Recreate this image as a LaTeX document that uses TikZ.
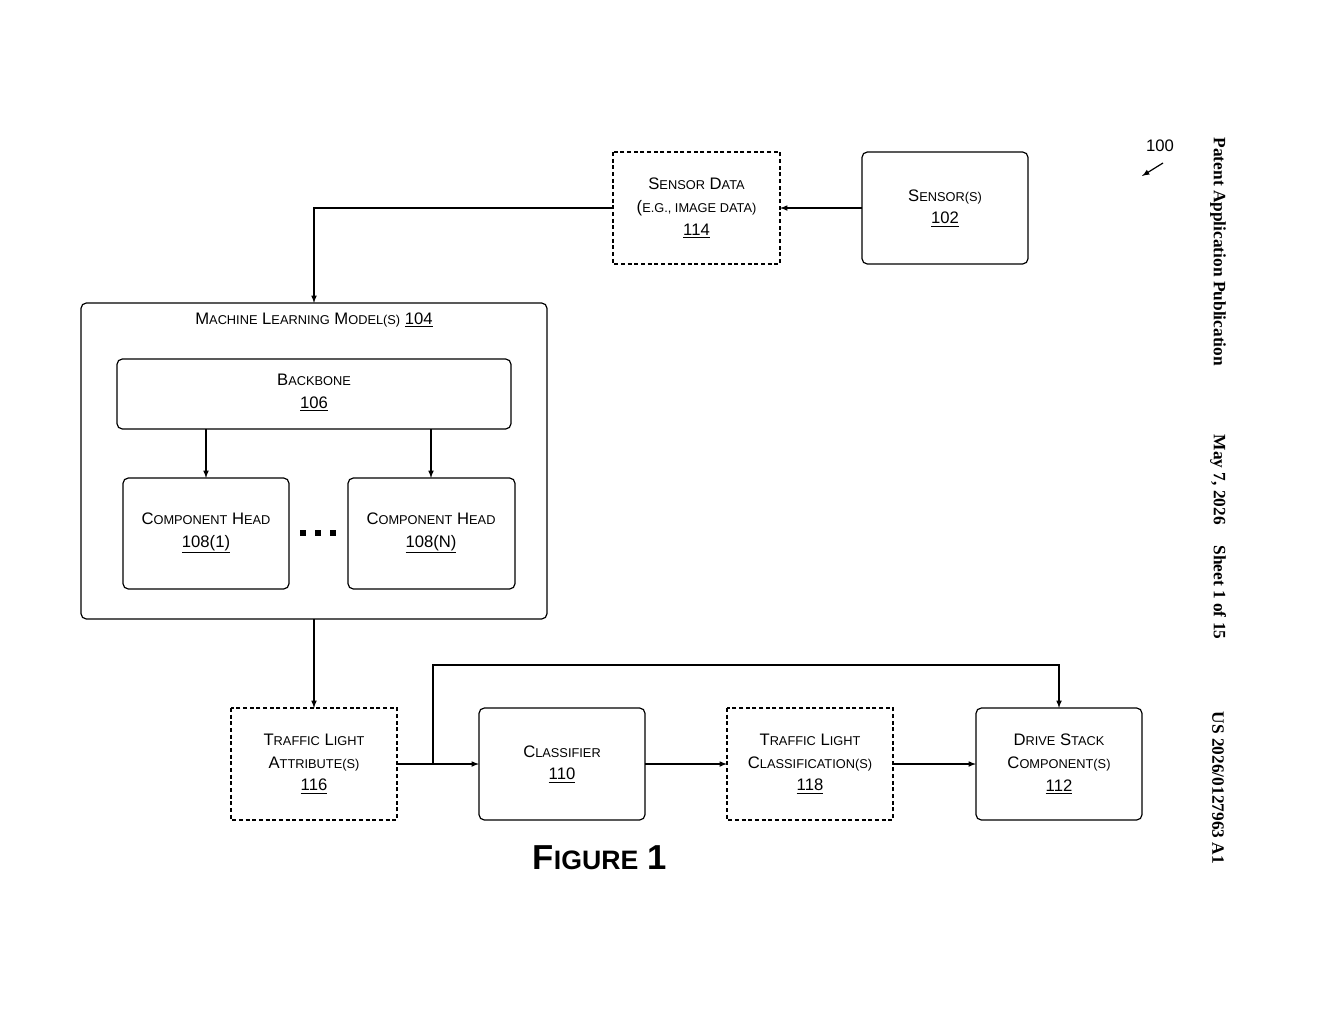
\documentclass[tikz,border=0pt]{standalone}
\usepackage{fontspec}
\setmainfont{Liberation Sans}
\newfontfamily\serifb{Liberation Serif}
\newcommand\fsc[2]{#1{\fontsize{9.6}{17}\selectfont #2}}
\begin{document}
\begin{tikzpicture}[x=0.75pt,y=-0.75pt,
  box/.style={draw,line width=0.9pt,rounded corners=4pt},
  dbox/.style={draw,line width=0.9pt,dashed,dash pattern=on 3pt off 2pt},
  lab/.style={font=\fontsize{12.5}{17}\selectfont,align=center},
  arr/.style={->,>=latex,line width=0.9pt}]
\useasboundingbox (0,0) rectangle (1320,1024);
% boxes
\draw[dbox] (613,152) rectangle (780,264); \coordinate (sdw) at (613,208); \coordinate (sde) at (780,208);
\node[lab] (sd) at (696.5,208) {\fsc{S}{ENSOR} \fsc{D}{ATA}\\\fsc{(}{E.G., IMAGE DATA)}\\\underline{114}};
\draw[box] (862,152) rectangle (1028,264); \coordinate (sw) at (862,208);
\node[lab] (s) at (945,208) {\fsc{S}{ENSOR(S)}\\\underline{102}};
\draw[box] (81,303) rectangle (547,619); \coordinate (mlt) at (314,303); \coordinate (mlb) at (314,619);
\node[lab] (ml) at (314,320) {\fsc{M}{ACHINE} \fsc{L}{EARNING} \fsc{M}{ODEL(S)} \underline{104}};
\draw[box] (117,359) rectangle (511,429);
\node[lab] (bb) at (314,393) {\fsc{B}{ACKBONE}\\\underline{106}};
\draw[box] (123,478) rectangle (289,589);
\node[lab] (h1) at (206,533) {\fsc{C}{OMPONENT} \fsc{H}{EAD}\\\underline{108(1)}};
\draw[box] (348,478) rectangle (515,589);
\node[lab] (hn) at (431,533) {\fsc{C}{OMPONENT} \fsc{H}{EAD}\\\underline{108(N)}};
\foreach \x in {303,318,333} \fill (\x-3,530) rectangle (\x+3,536);
\draw[dbox] (231,708) rectangle (397,820); \coordinate (tlae) at (397,764); \coordinate (tlat) at (314,708);
\node[lab] (tla) at (314,764) {\fsc{T}{RAFFIC} \fsc{L}{IGHT}\\\fsc{A}{TTRIBUTE(S)}\\\underline{116}};
\draw[box] (479,708) rectangle (645,820); \coordinate (cw) at (479,764); \coordinate (ce) at (645,764);
\node[lab] (c) at (562,764) {\fsc{C}{LASSIFIER}\\\underline{110}};
\draw[dbox] (727,708) rectangle (893,820); \coordinate (tcw) at (727,764); \coordinate (tce) at (893,764);
\node[lab] (tc) at (810,764) {\fsc{T}{RAFFIC} \fsc{L}{IGHT}\\\fsc{C}{LASSIFICATION(S)}\\\underline{118}};
\draw[box] (976,708) rectangle (1142,820); \coordinate (dw) at (976,764); \coordinate (dt) at (1059,708);
\node[lab] (d) at (1059,764) {\fsc{D}{RIVE} \fsc{S}{TACK}\\\fsc{C}{OMPONENT(S)}\\\underline{112}};
% connectors
\draw[arr] (sw) -- (sde);
\draw[arr] (sdw) -- (314,208) -- (mlt);
\draw[arr] (206,429) -- (206,478);
\draw[arr] (431,429) -- (431,478);
\draw[arr] (mlb) -- (tlat);
\draw[arr] (tlae) -- (cw);
\draw[arr] (433,764) -- (433,665) -- (1059,665) -- (dt);
\draw[arr] (ce) -- (tcw);
\draw[arr] (tce) -- (dw);
% figure label
\node[font=\bfseries\fontsize{26}{30}\selectfont] (fig) at (600,858) {F{\fontsize{20}{24}\selectfont IGURE} 1};
\node[font=\fontsize{12.5}{15}\selectfont] (n100) at (1160,146) {100};
\draw[arr] (1163,163) -- (1142,176);
% header
\node[rotate=-90,font=\serifb\bfseries\fontsize{13}{15}\selectfont,anchor=west] (h1t) at (1218,133) {Patent Application Publication};
\node[rotate=-90,font=\serifb\bfseries\fontsize{13}{15}\selectfont,anchor=west] (h2t) at (1218,430) {May 7, 2026\hspace{1.2em}Sheet 1 of 15};
\node[rotate=-90,font=\serifb\bfseries\fontsize{13}{15}\selectfont,anchor=west] (h3t) at (1218,707) {US 2026/0127963 A1};
\end{tikzpicture}
\end{document}
